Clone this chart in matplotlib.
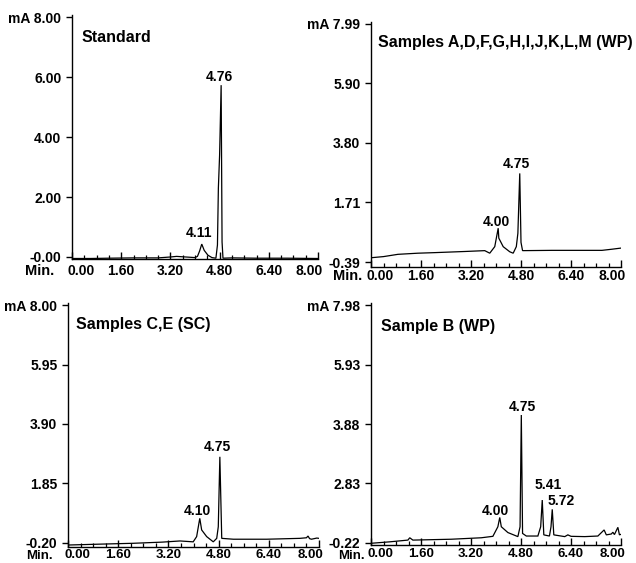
import matplotlib
matplotlib.use("Agg")
import matplotlib.pyplot as plt
from matplotlib.ticker import MultipleLocator, FixedLocator
from matplotlib.transforms import ScaledTranslation

plt.rcParams['font.family'] = ['Liberation Sans', 'DejaVu Sans']
plt.rcParams['font.weight'] = 'bold'

W, H = 636, 563

# ---------------- data ----------------
titles = ["Standard", "Samples A,D,F,G,H,I,J,K,L,M (WP)", "Samples C,E (SC)", "Sample B (WP)"]

x_ticks = [0.0, 1.6, 3.2, 4.8, 6.4, 8.0]
x_tick_labels = ["0.00", "1.60", "3.20", "4.80", "6.40", "8.00"]

# Standard
std_y_ticks = [0.0, 2.0, 4.0, 6.0, 8.0]
std_y_labels = ["-0.00", "2.00", "4.00", "6.00", "mA 8.00"]
std_time = [0.00, 0.60, 1.20, 2.00, 2.80, 3.20, 3.40, 3.70, 4.00, 4.08, 4.15, 4.22, 4.30,
            4.42, 4.55, 4.68, 4.73, 4.76, 4.80, 4.85, 4.88, 4.91, 5.20, 6.00, 7.00, 8.00]
std_signal = [-0.05, -0.05, -0.04, -0.03, -0.03, 0.00, 0.02, 0.00, -0.02, 0.02, 0.20, 0.43, 0.22,
              0.06, -0.02, -0.04, 0.40, 2.30, 3.40, 5.73, 0.50, -0.04, -0.03, -0.04, -0.04, -0.05]
std_peaks = [4.22, 4.85]
std_peak_labels = ["4.11", "4.76"]

# Samples A,D,F,G,H,I,J,K,L,M (WP)
wp_y_ticks = [-0.39, 1.71, 3.80, 5.90, 7.99]
wp_y_labels = ["-0.39", "1.71", "3.80", "5.90", "mA 7.99"]
wp_time = [0.00, 0.40, 0.86, 1.50, 2.04, 3.00, 3.64, 3.80, 3.96, 4.07, 4.09, 4.23, 4.44,
           4.55, 4.65, 4.70, 4.76, 4.80, 4.85, 5.79, 6.80, 7.39, 7.71, 8.00]
wp_signal = [-0.24, -0.20, -0.12, -0.08, -0.06, -0.02, 0.01, -0.08, 0.15, 0.80, 0.45, 0.15, -0.03,
             -0.08, 0.15, 0.62, 2.73, 0.30, 0.01, 0.02, 0.02, 0.02, 0.06, 0.10]
wp_peaks = [4.07, 4.76]
wp_peak_labels = ["4.00", "4.75"]

# Samples C,E (SC)
ce_y_ticks = [-0.20, 1.85, 3.90, 5.95, 8.00]
ce_y_labels = ["-0.20", "1.85", "3.90", "5.95", "mA 8.00"]
ce_time = [0.00, 1.00, 2.08, 3.00, 3.57, 3.99, 4.10, 4.20, 4.26, 4.42, 4.63, 4.74, 4.79,
           4.84, 4.90, 5.27, 6.33, 7.39, 7.60, 7.65, 7.70, 7.76, 7.93, 8.00]
ce_signal = [-0.27, -0.24, -0.21, -0.17, -0.13, -0.16, 0.02, 0.65, 0.25, 0.02, -0.16, -0.04, 0.36,
             2.77, -0.04, -0.07, -0.07, -0.04, -0.02, 0.04, -0.05, -0.07, -0.03, -0.04]
ce_peaks = [4.20, 4.84]
ce_peak_labels = ["4.10", "4.75"]

# Sample B (WP)
b_y_ticks = [-0.22, 1.83, 3.88, 5.93, 7.98]
b_y_labels = ["-0.22", "2.83", "3.88", "5.93", "mA 7.98"]
b_time = [0.00, 0.60, 1.18, 1.24, 1.34, 2.57, 3.53, 3.90, 4.06, 4.12, 4.17, 4.38, 4.70,
          4.77, 4.81, 4.85, 4.97, 5.34, 5.43, 5.48, 5.53, 5.71, 5.76, 5.80, 5.85, 6.20,
          6.30, 6.40, 6.84, 7.26, 7.46, 7.53, 7.69, 7.74, 7.79, 7.90, 7.95, 8.00]
b_signal = [-0.23, -0.18, -0.12, -0.04, -0.12, -0.09, -0.04, 0.01, 0.34, 0.66, 0.34, 0.14, 0.00,
            0.34, 4.19, 0.11, 0.02, 0.02, 0.34, 1.26, 0.06, 0.02, 0.34, 0.94, 0.06, 0.00,
            0.06, 0.01, 0.00, 0.02, 0.23, 0.06, 0.09, 0.15, 0.07, 0.32, 0.06, 0.08]
b_peaks = [4.12, 4.81, 5.48, 5.80]
b_peak_labels = ["4.00", "4.75", "5.41", "5.72"]

# ---------------- layout (pixels) ----------------
panels = [
    dict(box=(72, 318, 15, 259), ylim=(-0.067, 8.07), yt=std_y_ticks, yl=std_y_labels,
         t=std_time, s=std_signal, pk=std_peaks, pl=std_peak_labels,
         poff=[(-3, 7), (-2, 4)], title=(82, 38), minlab=(54, 271), xpad=5, xfs=10, mfs=10.5),
    dict(box=(371, 621, 22, 267), ylim=(-0.566, 8.06), yt=wp_y_ticks, yl=wp_y_labels,
         t=wp_time, s=wp_signal, pk=wp_peaks, pl=wp_peak_labels,
         poff=[(-2, 2), (-3, 5)], title=(378, 43), minlab=(362, 276), xpad=2, xfs=10, mfs=10.5),
    dict(box=(68, 319, 303, 547), ylim=(-0.338, 8.069), yt=ce_y_ticks, yl=ce_y_labels,
         t=ce_time, s=ce_signal, pk=ce_peaks, pl=ce_peak_labels,
         poff=[(-2, 3), (-2, 6)], title=(76, 325), minlab=(53, 556), xpad=2, xfs=9.5, mfs=9.5),
    dict(box=(371, 621, 303, 545), ylim=(-0.289, 8.049), yt=b_y_ticks, yl=b_y_labels,
         t=b_time, s=b_signal, pk=b_peaks, pl=b_peak_labels,
         poff=[(-4, 2), (1, 4), (6, 11), (9, 4)], title=(381, 327), minlab=(365, 556), xpad=3,
         xfs=9.5, mfs=9.5),
]

fig = plt.figure(figsize=(W / 100, H / 100), dpi=100)
PX = 0.72  # points per pixel at dpi 100

for p, title in zip(panels, titles):
    l, r, t, b = p['box']
    ax = fig.add_axes([l / W, 1 - b / H, (r - l) / W, (b - t) / H])
    ax.plot(p['t'], p['s'], color='black', lw=0.9, solid_joinstyle='miter')
    ax.set_xlim(0, 8)
    ax.set_ylim(*p['ylim'])
    for side in ('top', 'right'):
        ax.spines[side].set_visible(False)
    for side in ('left', 'bottom'):
        ax.spines[side].set_linewidth(1.0)

    ax.xaxis.set_major_locator(FixedLocator(x_ticks))
    ax.set_xticklabels(x_tick_labels)
    ax.xaxis.set_minor_locator(MultipleLocator(0.4))
    ax.tick_params(axis='x', which='major', direction='in', length=5, width=1.0,
                   labelsize=p['xfs'], pad=p['xpad'] * PX)
    ax.tick_params(axis='x', which='minor', direction='in', length=3, width=0.9)
    ax.set_yticks(p['yt'])
    ax.set_yticklabels(p['yl'])
    ax.tick_params(axis='y', which='major', direction='out', length=4, width=1.0,
                   labelsize=10, pad=5 * PX)
    for lab in ax.get_xticklabels() + ax.get_yticklabels():
        lab.set_fontweight('bold')
    xl = ax.get_xticklabels()
    xl[0].set_transform(xl[0].get_transform() + ScaledTranslation(9 / 100, 0, fig.dpi_scale_trans))
    xl[-1].set_transform(xl[-1].get_transform() + ScaledTranslation(-9 / 100, 0, fig.dpi_scale_trans))

    # peak labels
    for pt, lab, (dx, dy) in zip(p['pk'], p['pl'], p['poff']):
        sv = p['s'][p['t'].index(pt)]
        ax.annotate(lab, xy=(pt, sv), xytext=(dx * PX, dy * PX), textcoords='offset points',
                    ha='center', va='baseline', fontsize=10, fontweight='bold')

    tx, ty = p['title']
    fig.text(tx / W, 1 - ty / H, title, ha='left', va='center', fontsize=11.5, fontweight='bold')
    mx, my = p['minlab']
    fig.text(mx / W, 1 - my / H, "Min.", ha='right', va='center', fontsize=p['mfs'],
             fontweight='bold')

fig.savefig("out.png", dpi=100)
